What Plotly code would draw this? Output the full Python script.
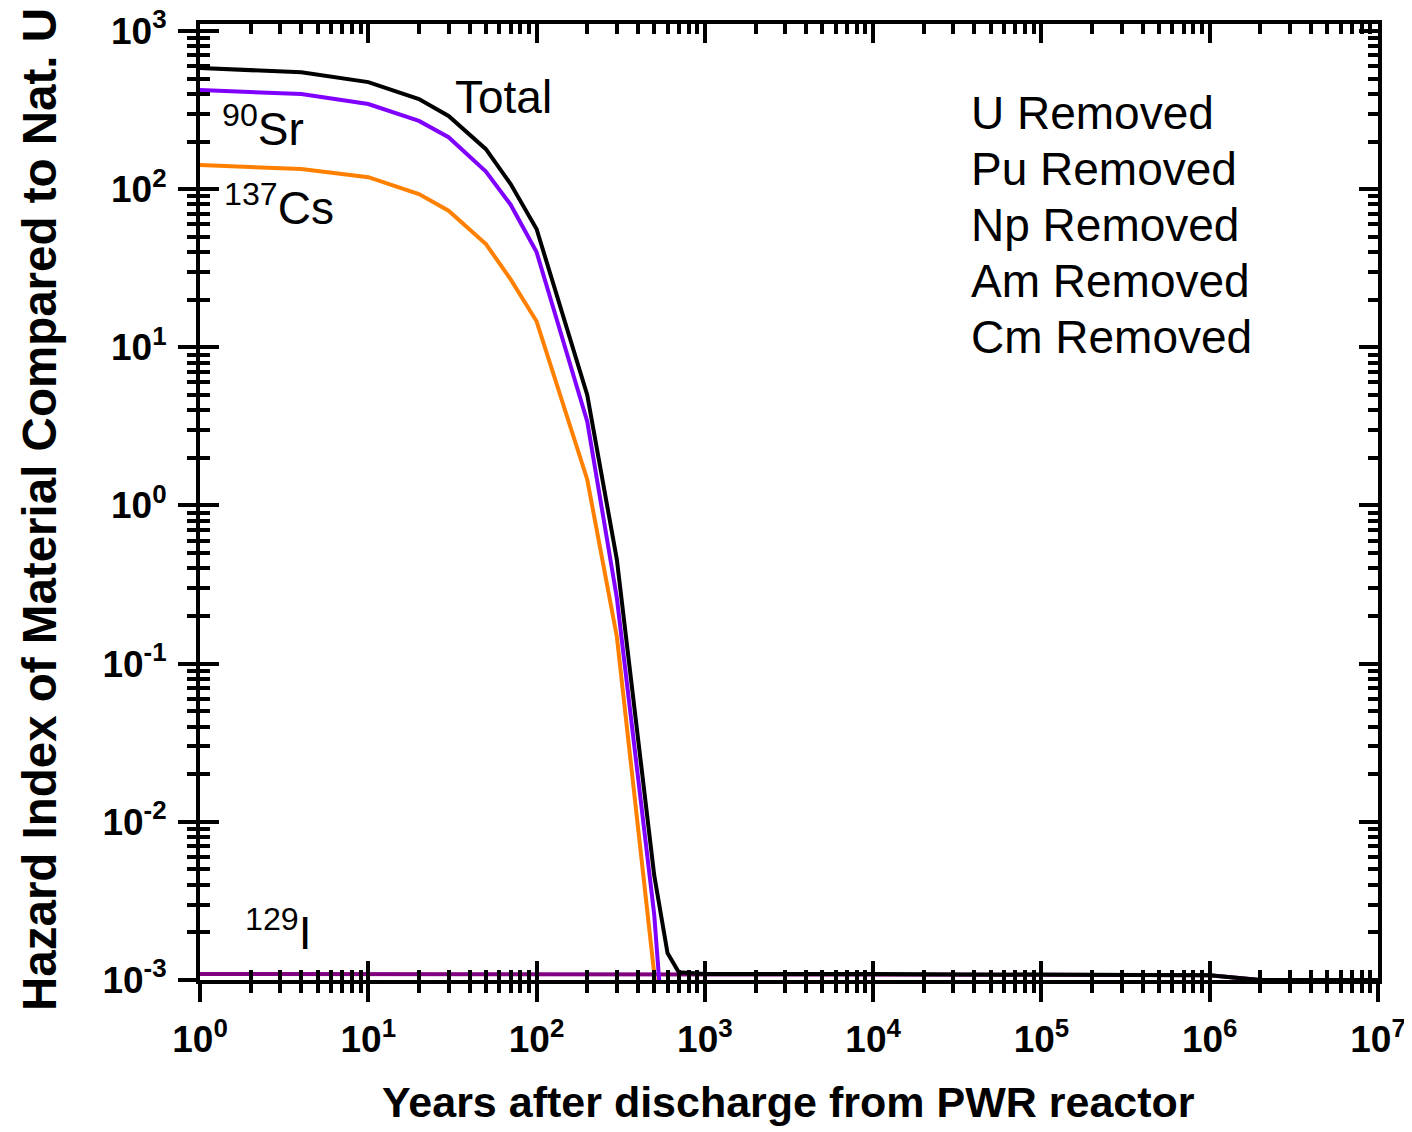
import plotly.graph_objects as go

# ---------------- data ----------------
t_main = [1, 4, 10, 20, 30, 50, 70, 100, 200, 300, 500, 600]
sr90 = [424, 399, 345, 270, 213, 129, 80, 40, 3.4, 0.26, 2.6e-3, 2.0e-4]
cs137 = [142, 134, 119, 93, 73, 45, 27, 14.6, 1.46, 0.148, 1.1e-3, 1.0e-4]

t_total = [1, 4, 10, 20, 30, 50, 70, 100, 200, 300, 500, 600, 700, 1000,
           1e4, 1e5, 1e6, 2e6, 1e7]
total = [583, 548, 475, 371, 290, 179, 108, 56, 5.0, 0.455, 4.6e-3, 1.48e-3,
         1.12e-3, 1.09e-3, 1.09e-3, 1.08e-3, 1.07e-3, 1.0e-3, 1.0e-3]

t_i129 = [1, 10, 100, 1000, 1e4, 1e5, 1e6, 2e6, 1e7]
i129 = [1.09e-3, 1.09e-3, 1.09e-3, 1.09e-3, 1.09e-3, 1.08e-3, 1.07e-3, 1.0e-3, 1.0e-3]

x_exps = [0, 1, 2, 3, 4, 5, 6, 7]
y_exps = [-3, -2, -1, 0, 1, 2, 3]
removed = ["U Removed", "Pu Removed", "Np Removed", "Am Removed", "Cm Removed"]
x_title = "Years after discharge from PWR reactor"
y_title = "Hazard Index of Material Compared to Nat. U"

FONT = "Liberation Sans, Arial, Helvetica, sans-serif"

def minor_vals(lo, hi):
    vals = []
    for e in range(lo, hi):
        for m in range(2, 10):
            vals.append(m * 10 ** e)
    return vals

x_major = [10 ** e for e in x_exps]
y_major = [10.0 ** e for e in y_exps]
x_text = [f"10<sup>{e}</sup>" for e in x_exps]
y_text = [f"10<sup>{e}</sup>" for e in y_exps]

fig = go.Figure()
fig.add_trace(go.Scatter(x=t_i129, y=i129, mode="lines",
                         line=dict(color="#800080", width=4), name="129I"))
fig.add_trace(go.Scatter(x=t_main, y=cs137, mode="lines",
                         line=dict(color="#FF8000", width=4), name="137Cs"))
fig.add_trace(go.Scatter(x=t_main, y=sr90, mode="lines",
                         line=dict(color="#8000FF", width=4), name="90Sr"))
fig.add_trace(go.Scatter(x=t_total, y=total, mode="lines",
                         line=dict(color="#000000", width=4), name="Total"))

xr = [0, 7]
yr = [-3, 3.044]

common_x = dict(type="log", range=xr, showgrid=False, zeroline=False,
                tickvals=x_major, tickwidth=4, tickcolor="black", automargin=False)
common_y = dict(type="log", range=yr, showgrid=False, zeroline=False,
                tickvals=y_major, tickwidth=4, tickcolor="black", automargin=False)

tick_font = dict(family=FONT, size=37, weight="bold", color="black")

# page body has an 8px default margin; figure is sized/margined to compensate
fig.update_layout(
    width=1404, height=1124,
    margin=dict(l=192, r=34, t=16, b=152, autoexpand=False),
    paper_bgcolor="white", plot_bgcolor="white",
    showlegend=False,
    font=dict(family=FONT, color="black"),
    xaxis=dict(**common_x, ticks="outside", ticklen=18,
               ticktext=x_text, showticklabels=True, tickfont=tick_font,
               ticklabelstandoff=6, ticklabeloverflow="allow",
               showline=True, linewidth=4, linecolor="black", mirror=True,
               minor=dict(tickvals=minor_vals(0, 7), ticks="outside", ticklen=9,
                          tickwidth=4, tickcolor="black", showgrid=False)),
    xaxis2=dict(**common_x, overlaying="x", anchor="y", side="bottom",
                ticks="inside", ticklen=19, mirror="ticks", showline=False,
                showticklabels=False,
                minor=dict(tickvals=minor_vals(0, 7), ticks="inside", ticklen=10,
                           tickwidth=4, tickcolor="black", showgrid=False)),
    yaxis=dict(**common_y, ticks="outside", ticklen=18,
               ticktext=y_text, showticklabels=True, tickfont=tick_font,
               ticklabelstandoff=4, ticklabeloverflow="allow",
               showline=True, linewidth=4, linecolor="black", mirror=True,
               minor=dict(tickvals=minor_vals(-3, 3), ticks="outside", ticklen=9,
                          tickwidth=4, tickcolor="black", showgrid=False)),
    yaxis2=dict(**common_y, overlaying="y", anchor="x", side="left",
                ticks="inside", ticklen=19, mirror="ticks", showline=False,
                showticklabels=False,
                minor=dict(tickvals=minor_vals(-3, 3), ticks="inside", ticklen=10,
                           tickwidth=4, tickcolor="black", showgrid=False)),
)

# invisible trace to activate overlay axes
fig.add_trace(go.Scatter(x=[1], y=[1], xaxis="x2", yaxis="y2", mode="markers",
                         marker=dict(opacity=0), hoverinfo="skip", showlegend=False))

def px_to_paper_x(px):
    return (px - 200) / 1178.0

def px_to_paper_y(py):
    return (980 - py) / 956.0

# axis titles
fig.add_annotation(text=f"<b>{x_title}</b>", xref="paper", yref="paper",
                   x=px_to_paper_x(788), y=px_to_paper_y(1102),
                   xanchor="center", yanchor="middle", showarrow=False,
                   font=dict(family=FONT, size=43, color="black"))
fig.add_annotation(text=f"<b>{y_title}</b>", xref="paper", yref="paper",
                   x=px_to_paper_x(39), y=px_to_paper_y(510), textangle=-90,
                   xanchor="center", yanchor="middle", showarrow=False,
                   font=dict(family=FONT, size=47.5, color="black"))

ann_font = dict(family=FONT, size=46, color="black")
labels = [
    ("Total", 453, 97),
    ("<sup>90</sup>Sr", 220, 126),
    ("<sup>137</sup>Cs", 222, 205),
    ("<sup>129</sup>I", 243, 930),
]
for txt, px, py in labels:
    fig.add_annotation(text=txt, xref="paper", yref="paper",
                       x=px_to_paper_x(px), y=px_to_paper_y(py),
                       xanchor="left", yanchor="middle", showarrow=False,
                       font=ann_font)

for i, txt in enumerate(removed):
    fig.add_annotation(text=txt, xref="paper", yref="paper",
                       x=px_to_paper_x(969), y=px_to_paper_y(113 + 56 * i),
                       xanchor="left", yanchor="middle", showarrow=False,
                       font=ann_font)

fig.write_html("out.html")
